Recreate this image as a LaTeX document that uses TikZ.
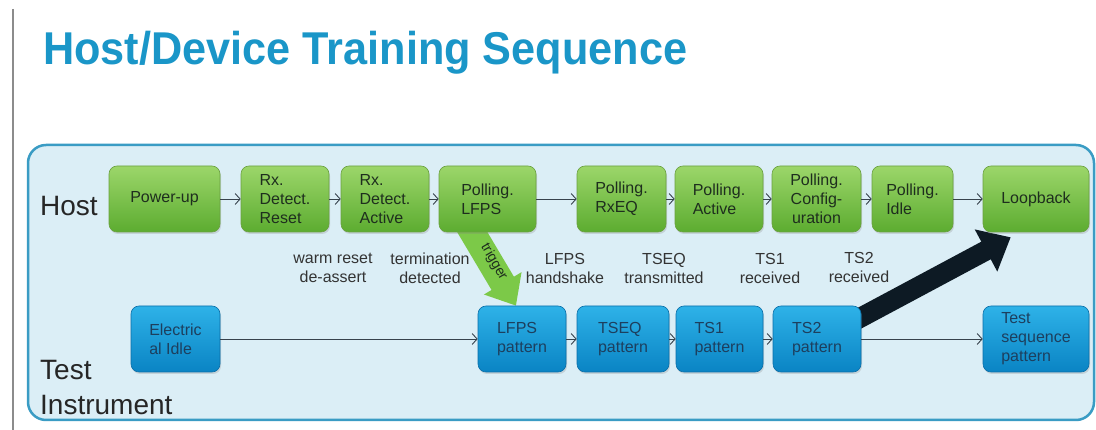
\documentclass[tikz,border=0pt]{standalone}
\usepackage{fontspec}
\setmainfont{Liberation Sans}
\usetikzlibrary{arrows.meta,shadows}
\definecolor{titleblue}{HTML}{1A96C8}
\definecolor{panelfill}{HTML}{DBEEF6}
\definecolor{panelline}{HTML}{3A9CC4}
\definecolor{gtop}{HTML}{9CD66A}
\definecolor{gbot}{HTML}{5CAC30}
\definecolor{gborder}{HTML}{6AA040}
\definecolor{gtext}{HTML}{1E2E1E}
\definecolor{btop}{HTML}{2EB2E8}
\definecolor{bbot}{HTML}{0A84C4}
\definecolor{bborder}{HTML}{0A6EA8}
\definecolor{btext}{HTML}{1D3F5E}
\definecolor{conncol}{HTML}{37424C}
\definecolor{labcol}{HTML}{333333}
\definecolor{garrow}{HTML}{7CC948}
\definecolor{darrow}{HTML}{0D1A24}
\pgfdeclarelayer{panellayer}
\pgfdeclarelayer{arrowlayer}
\pgfsetlayers{panellayer,arrowlayer,main}
\begin{document}
\begin{tikzpicture}[x=1pt,y=-1pt,
  boxbase/.style={line width=0.6pt, rounded corners=8pt, align=left, inner sep=0pt,
    minimum height=66pt, font=\fontsize{16}{19}\selectfont,
    drop shadow={opacity=0.25,shadow xshift=1pt,shadow yshift=-2pt}},
  gbox/.style={boxbase, draw=gborder, top color=gtop, bottom color=gbot, text=gtext},
  bbox/.style={boxbase, draw=bborder, top color=btop, bottom color=bbot, text=btext},
  conn/.style={draw=conncol, line width=0.9pt, -{Straight Barb[length=5pt,width=11pt]}},
  evlabel/.style={align=center, text=labcol, font=\fontsize{16}{19}\selectfont, inner sep=0pt},
  rowlabel/.style={anchor=base west, text=black!85, font=\fontsize{28}{32}\selectfont, inner sep=0pt}
]
\useasboundingbox (0,0) rectangle (1096,430);
\begin{pgfonlayer}{panellayer}
\fill[white] (0,0) rectangle (1096,430);
% left gray rule
\draw[black!45, line width=2pt] (13,9) -- (13,430);
% panel
\draw[draw=panelline, fill=panelfill, line width=2.5pt, rounded corners=18pt] (28,145) rectangle (1094,420);
\end{pgfonlayer}
% title
\node[anchor=base west, inner sep=0pt, text=titleblue, font=\fontsize{46}{50}\selectfont\bfseries] (title) at (43,65) {\scalebox{0.94}[1]{Host/Device Training Sequence}};
% row labels
\node[rowlabel] (host) at (40,216) {Host};
\node[rowlabel] (test) at (40,380) {Test};
\node[rowlabel] (instr) at (40,415) {Instrument};
% host row
\node[gbox, minimum width=111pt, align=center] (pu) at (164.5,199) {Power-up};
\node[gbox, minimum width=88pt] (rxr) at (285,199) {Rx.\\Detect.\\Reset};
\node[gbox, minimum width=88pt] (rxa) at (385,199) {Rx.\\Detect.\\Active};
\node[gbox, minimum width=97pt] (plfps) at (487.5,199) {Polling.\\LFPS};
\node[gbox, minimum width=89pt] (prxeq) at (621.5,199) {Polling.\\RxEQ};
\node[gbox, minimum width=88pt] (pact) at (719,199) {Polling.\\Active};
\node[gbox, minimum width=89pt, align=center] (pcfg) at (816.5,199) {Polling.\\Config-\\uration};
\node[gbox, minimum width=81pt] (pidle) at (912.5,199) {Polling.\\Idle};
\node[gbox, minimum width=106pt, align=center] (loop) at (1036,199) {Loopback};
% bottom row
\node[bbox, minimum width=89pt] (eidle) at (175.5,339) {Electric\\al Idle};
\node[bbox, minimum width=88pt] (lfpsp) at (522,339) {LFPS\\pattern};
\node[bbox, minimum width=92pt] (tseqp) at (623,339) {TSEQ\\pattern};
\node[bbox, minimum width=87pt] (ts1p) at (719.5,339) {TS1\\pattern};
\node[bbox, minimum width=88pt] (ts2p) at (817,339) {TS2\\pattern};
\node[bbox, minimum width=106pt] (testp) at (1036,339) {Test\\sequence\\pattern};
% thick arrows, behind the boxes
\begin{pgfonlayer}{arrowlayer}
\draw[draw=garrow, line width=26pt, -{Triangle[width=42pt,length=26pt]}]
  ([shift={(-24,-15)}]plfps.south) -- ([xshift=-6pt]lfpsp.north);
\draw[draw=darrow, line width=20pt, -{Triangle[width=46pt,length=28pt]}]
  ([shift={(26,-12)}]ts2p.center) -- ([shift={(28,5)}]loop.south west);
\end{pgfonlayer}
% trigger label
\node[rotate=-60, text=gtext, font=\fontsize{14}{16}\selectfont, inner sep=0pt] (trig) at (494,262) {trigger};
% connectors host row
\draw[conn] (pu) -- (rxr);
\draw[conn] (rxr) -- (rxa);
\draw[conn] (rxa) -- (plfps);
\draw[conn] (plfps) -- (prxeq);
\draw[conn] (prxeq) -- (pact);
\draw[conn] (pact) -- (pcfg);
\draw[conn] (pcfg) -- (pidle);
\draw[conn] (pidle) -- (loop);
% connectors bottom row
\draw[conn] (eidle) -- (lfpsp);
\draw[conn] (lfpsp) -- (tseqp);
\draw[conn] (tseqp) -- (ts1p);
\draw[conn] (ts1p) -- (ts2p);
\draw[conn] (ts2p) -- (testp);
% event labels
\node[evlabel] (l1) at (333,268) {warm reset\\de-assert};
\node[evlabel] (l2) at (430,268) {termination\\detected};
\node[evlabel] (l3) at (565,268) {LFPS\\handshake};
\node[evlabel] (l4) at (664,268) {TSEQ\\transmitted};
\node[evlabel] (l5) at (770,268) {TS1\\received};
\node[evlabel] (l6) at (859,267) {TS2\\received};
\end{tikzpicture}
\end{document}
